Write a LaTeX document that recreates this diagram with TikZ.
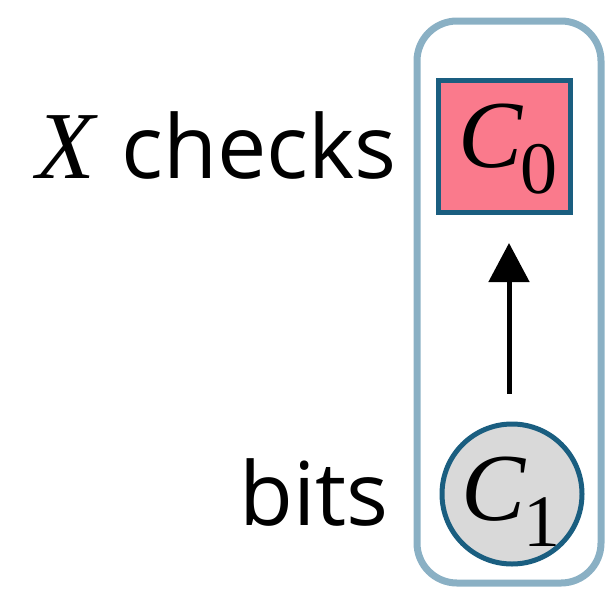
\documentclass[tikz,border=0pt]{standalone}
\usepackage{fontspec}
\setmainfont{Open Sans}
\newfontfamily\symserif{Liberation Serif}
\usetikzlibrary{arrows.meta,positioning}
\definecolor{boxblue}{HTML}{8AB0C4}
\definecolor{edgeblue}{HTML}{1A5E80}
\definecolor{checkpink}{HTML}{FA7A8C}
\definecolor{bitgray}{HTML}{D9D9D9}
% italic serif letter with lowered upright index
\newcommand{\symidx}[2]{{\symserif\itshape #1}\kern-2pt%
  \raisebox{-26pt}{\symserif\fontsize{74}{74}\selectfont #2}}
\tikzset{
  big/.style={font=\fontsize{88}{96}\selectfont},
  sym/.style={font=\fontsize{96}{100}\selectfont},
  check/.style={rectangle,draw=edgeblue,fill=checkpink,line width=5pt,
    minimum size=132pt,inner sep=0pt,sym},
  bit/.style={circle,draw=edgeblue,fill=bitgray,line width=5pt,
    minimum size=140pt,inner sep=0pt,sym},
  lbl/.style={inner sep=0pt,big}
}
\begin{document}
\begin{tikzpicture}[x=1pt,y=-1pt]
\useasboundingbox (0,0) rectangle (607,589);
\draw[boxblue,line width=7pt,rounded corners=40pt] (417,21) rectangle (601,583);
\node[check] (c0) at (504.5,146.5) {};
\node[inner sep=0pt,sym,anchor=base west] (c0txt) at (458,167) {\symidx{C}{0}};
\node[bit] (c1) at (512,494) {};
\node[inner sep=0pt,sym,anchor=base west] (c1txt) at (461,520) {\symidx{C}{1}};
\node[lbl,anchor=base east] (xlbl) at (397,178)
  {{\symserif\itshape\fontsize{96}{100}\selectfont X}\hspace{0.3em}checks};
\node[lbl,anchor=base east] (blbl) at (389,525) {bits};
\draw[line width=5pt,-{Triangle[length=39pt,width=40pt]},shorten <=28pt,shorten >=28pt]
  ([xshift=-3pt]c1.north) -- ([xshift=-3pt]c1.north |- c0.south);
\end{tikzpicture}
\end{document}
